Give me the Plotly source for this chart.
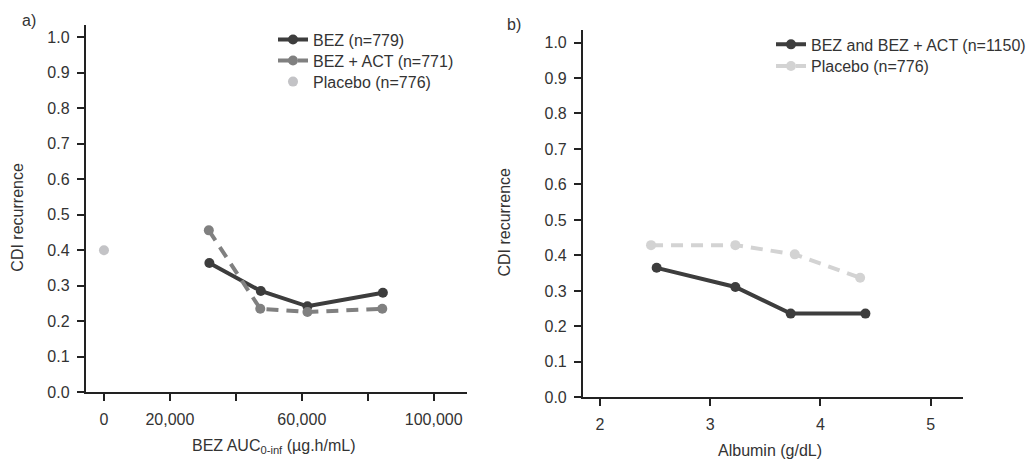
import plotly.graph_objects as go

# ---------------- data ----------------
# Panel a: CDI recurrence vs BEZ AUC0-inf
auc_bez = [31960, 47560, 61700, 84580]
cdi_bez = [0.364, 0.285, 0.242, 0.280]
auc_act = [31800, 47400, 61700, 84400]
cdi_act = [0.456, 0.235, 0.226, 0.235]
auc_pbo = [0]
cdi_pbo = [0.400]

# Panel b: CDI recurrence vs Albumin
alb_bez = [2.514, 3.228, 3.730, 4.408]
cdi_bez_alb = [0.365, 0.311, 0.236, 0.236]
alb_pbo = [2.463, 3.228, 3.767, 4.360]
cdi_pbo_alb = [0.429, 0.429, 0.403, 0.337]

y_ticks = [0.0, 0.1, 0.2, 0.3, 0.4, 0.5, 0.6, 0.7, 0.8, 0.9, 1.0]
a_xticks = [0, 20000, 60000, 100000]
a_xtext = ["0", "20,000", "60,000", "100,000"]
a_xminor = [40000, 80000]
b_xticks = [2, 3, 4, 5]
b_xtext = ["2", "3", "4", "5"]

names_a = ["BEZ (n=779)", "BEZ + ACT (n=771)", "Placebo (n=776)"]
names_b = ["BEZ and BEZ + ACT (n=1150)", "Placebo (n=776)"]

# ---------------- style ----------------
FONT = "Arial, Liberation Sans, Helvetica, sans-serif"
TXT = "#333333"
DARK = "#3d3d3d"
MID = "#808080"
LIGHT_A = "#c3c3c6"
LIGHT_B = "#d3d3d3"
AX = "#222222"
W, H = 1032, 459


def fx(px):
    return px / W


def fy(py):
    return 1 - py / H


fig = go.Figure()

fig.add_trace(go.Scatter(x=auc_bez, y=cdi_bez, name=names_a[0], mode="lines+markers",
                         line=dict(color=DARK, width=4), marker=dict(color=DARK, size=10),
                         xaxis="x", yaxis="y", legend="legend"))
fig.add_trace(go.Scatter(x=auc_act, y=cdi_act, name=names_a[1], mode="lines+markers",
                         line=dict(color=MID, width=4, dash="12px,8px"), marker=dict(color=MID, size=10),
                         xaxis="x", yaxis="y", legend="legend3"))
fig.add_trace(go.Scatter(x=auc_pbo, y=cdi_pbo, name=names_a[2], mode="markers",
                         marker=dict(color=LIGHT_A, size=10),
                         xaxis="x", yaxis="y", legend="legend4"))

fig.add_trace(go.Scatter(x=alb_bez, y=cdi_bez_alb, name=names_b[0], mode="lines+markers",
                         line=dict(color=DARK, width=4), marker=dict(color=DARK, size=10),
                         xaxis="x2", yaxis="y2", legend="legend2"))
fig.add_trace(go.Scatter(x=alb_pbo, y=cdi_pbo_alb, name=names_b[1], mode="lines+markers",
                         line=dict(color=LIGHT_B, width=4, dash="12px,8px"), marker=dict(color=LIGHT_B, size=10),
                         xaxis="x2", yaxis="y2", legend="legend5"))

common_axis = dict(showgrid=False, zeroline=False, showline=True, linecolor=AX, linewidth=1.5,
                   ticks="outside", ticklen=7, tickwidth=1.5, tickcolor=AX,
                   tickfont=dict(family=FONT, size=16, color=TXT))

leg_font = dict(family=FONT, size=16, color=TXT)


def leg(xpx, ypx_top):
    return dict(x=fx(xpx), y=fy(ypx_top), xanchor="left", yanchor="top",
                bgcolor="rgba(0,0,0,0)", font=leg_font, tracegroupgap=0)


fig.update_layout(
    width=W, height=H,
    margin=dict(l=0, r=0, t=0, b=0),
    paper_bgcolor="white", plot_bgcolor="white",
    font=dict(family=FONT, color=TXT),
    xaxis=dict(domain=[fx(85.5), fx(466.7)], range=[-5600, 110000], anchor="y",
               tickvals=a_xticks, ticktext=a_xtext, ticklabelstandoff=5,
               minor=dict(tickvals=a_xminor, ticks="outside", ticklen=7, tickwidth=1.5,
                          tickcolor=AX, showgrid=False),
               **common_axis),
    yaxis=dict(domain=[fy(400), fy(25)], range=[0, 1.036], anchor="x",
               tickvals=y_ticks, tickformat=".1f", ticklabelstandoff=4, **common_axis),
    xaxis2=dict(domain=[fx(582.7), fx(963.3)], range=[1.843, 5.296], anchor="y2",
                tickvals=b_xticks, ticktext=b_xtext, ticklabelstandoff=5, **common_axis),
    yaxis2=dict(domain=[fy(405.3), fy(30.7)], range=[0, 1.035], anchor="x2",
                tickvals=y_ticks, tickformat=".1f", ticklabelstandoff=4, **common_axis),
    legend=leg(273, 23),
    legend3=leg(273, 44.5),
    legend4=leg(273, 66),
    legend2=leg(771, 28),
    legend5=leg(771, 50),
    showlegend=True,
)

ann_font = dict(family=FONT, size=16, color=TXT)
fig.add_annotation(text="a)", x=fx(29), y=fy(21), xref="paper", yref="paper",
                   showarrow=False, font=ann_font, xanchor="center", yanchor="middle")
fig.add_annotation(text="b)", x=fx(514), y=fy(25), xref="paper", yref="paper",
                   showarrow=False, font=ann_font, xanchor="center", yanchor="middle")
fig.add_annotation(text="CDI recurrence", x=fx(18), y=fy(222), xref="paper", yref="paper",
                   showarrow=False, font=ann_font, textangle=-90, xanchor="center", yanchor="middle")
fig.add_annotation(text="CDI recurrence", x=fx(505), y=fy(227), xref="paper", yref="paper",
                   showarrow=False, font=ann_font, textangle=-90, xanchor="center", yanchor="middle")
fig.add_annotation(text="BEZ AUC<sub><span style='color:#333333'>0-inf</span></sub> (µg.h/mL)",
                   x=fx(273), y=fy(455), xref="paper", yref="paper",
                   showarrow=False, font=ann_font, xanchor="center", yanchor="middle")
fig.add_annotation(text="Albumin (g/dL)", x=fx(770), y=fy(459), xref="paper", yref="paper",
                   showarrow=False, font=ann_font, xanchor="center", yanchor="middle")

fig.write_html("out.html")
